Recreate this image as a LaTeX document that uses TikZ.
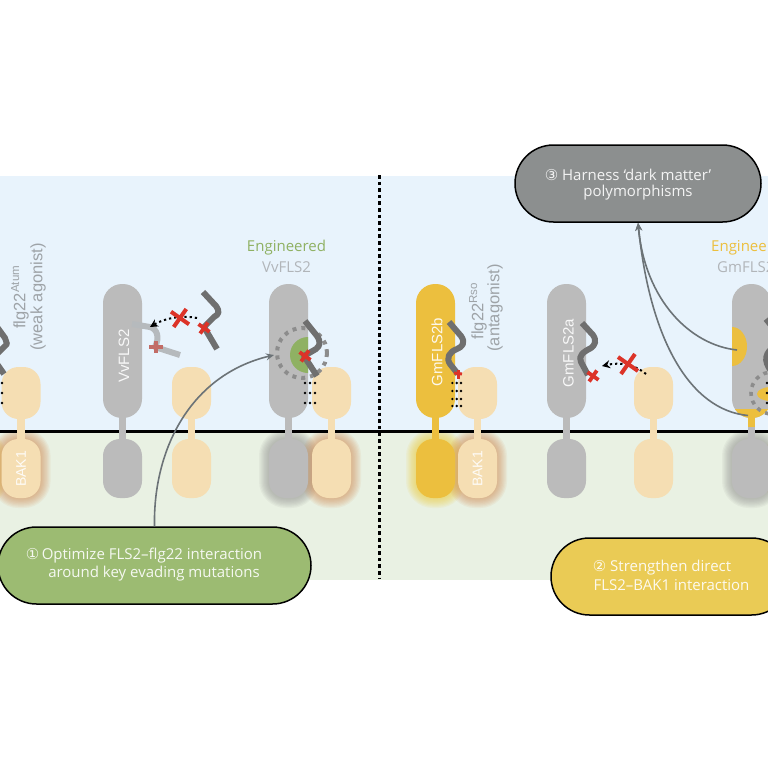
\documentclass[tikz,border=0pt]{standalone}
\usepackage{fontspec}
\setmainfont{Open Sans}
\newfontfamily\armfont{Liberation Sans}
\newfontfamily\numfont{DejaVu Sans}
\usetikzlibrary{arrows.meta,calc}
\definecolor{skyzone}{HTML}{E8F3FC}
\definecolor{soilzone}{HTML}{E9F1E3}
\definecolor{fls}{HTML}{BBBBBB}
\definecolor{bak}{HTML}{F5DEB3}
\definecolor{gold}{HTML}{ECBF3E}
\definecolor{leaf}{HTML}{8FB163}
\definecolor{pep}{HTML}{6F6F6F}
\definecolor{mut}{HTML}{DC3328}
\definecolor{wire}{HTML}{6C7377}
\definecolor{caption}{HTML}{9EA3A7}
\definecolor{actgreen}{HTML}{9CBB72}
\definecolor{actyellow}{HTML}{EACB55}
\definecolor{actgrey}{HTML}{8C8F8F}
\definecolor{glowbak}{HTML}{D28A4E}
\definecolor{glowfls}{HTML}{8E8E8E}
\definecolor{glowgold}{HTML}{F0CC30}
\tikzset{
  x=1pt,y=-1pt,
  upper/.style={draw=none,rounded corners=19pt,minimum width=39pt,inner sep=0pt,outer sep=0pt},
  lobe/.style={draw=none,rounded corners=17pt,minimum width=39pt,inner sep=0pt,outer sep=0pt},
  flsbody/.style={upper,fill=fls,minimum height=134pt},
  flsfoot/.style={lobe,fill=fls,minimum height=59pt},
  bakbody/.style={lobe,fill=bak,minimum height=52pt},
  bakfoot/.style={lobe,fill=bak,minimum height=59pt},
  goldbody/.style={upper,fill=gold,minimum height=134pt},
  goldfoot/.style={lobe,fill=gold,minimum height=59pt},
  stem/.style={line width=7.5pt},
  peptide/.style={line width=6pt,draw=pep,line join=round},
  pill/.style={draw=black,line width=1.5pt,rounded corners=38.5pt,minimum height=77pt,inner sep=0pt},
  pilltext/.style={text=white,font=\fontsize{15}{17}\selectfont,inner sep=0pt,opacity=.9},
  armtext/.style={text=white,font=\armfont\fontsize{15}{17}\selectfont,rotate=90,inner sep=0pt,opacity=.9},
  baktext/.style={armtext,font=\armfont\fontsize{14}{16}\selectfont},
  captext/.style={text=caption,font=\armfont\fontsize{16.5}{18}\selectfont,rotate=90,inner sep=0pt},
  headtext/.style={font=\fontsize{15}{17}\selectfont,inner sep=0pt},
  crossmark/.style={draw=mut,line width=3.8pt},
  contact/.style={fill=black,draw=none},
  ring/.style={draw=gray!90,line width=4pt,dash pattern=on 4pt off 5pt},
  leader/.style={draw=wire,line width=1.6pt},
  tip/.style={-{Stealth[length=8pt,width=7pt]}},
  dotarrow/.style={draw=black,line width=2pt,dash pattern=on 2.2pt off 3pt,-{Stealth[length=8pt,width=8pt]}},
}
% soft glow round a cytoplasmic lobe
\newcommand{\glowlobe}[5]{%
  \foreach \w in {20,17.5,15,12.5,10,7.5,5,2.5}{%
    \draw[draw=#5,opacity=.085,line width=\w pt,rounded corners=17pt] (#1,#2) rectangle (#3,#4);}%
}
% red mutation cross with half-arm d
\newcommand{\crossat}[4][crossmark]{%
  \draw[#1] ($(#2,#3)+(-#4,-#4*.7)$) -- ($(#2,#3)+(#4,#4*.7)$);
  \draw[#1] ($(#2,#3)+(-#4*.7,#4)$) -- ($(#2,#3)+(#4*.7,-#4)$);
}
% rows of contact points between receptor and co-receptor
\newcommand{\contacts}[2]{%
  \foreach \cy in {#2}{\foreach \cx in {#1}{\fill[contact] (\cx,\cy) circle (1.3pt);}}%
}
\begin{document}
\begin{tikzpicture}
\useasboundingbox (0,0) rectangle (768,768);
\clip (0,0) rectangle (768,768);

% compartments
\fill[skyzone] (0,176) rectangle (768,432);
\fill[soilzone] (0,432) rectangle (768,579.5);

% glow below the membrane
\begin{scope}
\clip (0,433) rectangle (768,540);
\glowlobe{-45}{439}{-4}{498}{glowgold}
\glowlobe{1.5}{439}{40.5}{498}{glowbak}
\glowlobe{269}{439}{308}{498}{glowfls}
\glowlobe{312}{439}{351}{498}{glowbak}
\glowlobe{416}{439}{455}{498}{glowgold}
\glowlobe{458}{439}{497}{498}{glowbak}
\glowlobe{732}{439}{771}{498}{glowfls}
\glowlobe{775}{439}{814}{498}{glowbak}
\end{scope}

% membrane and panel divider
\draw[line width=3pt,black] (0,431.5) -- (768,431.5);
\draw[line width=3pt,black,dash pattern=on 3.6pt off 3pt] (379,175) -- (379,578);

% stems crossing the membrane
\draw[stem,draw=bak] (21,415) -- (21,442);
\draw[stem,draw=fls] (122.5,415) -- (122.5,442);
\draw[stem,draw=bak] (191.5,415) -- (191.5,442);
\draw[stem,draw=fls] (288.5,415) -- (288.5,442);
\draw[stem,draw=bak] (331.5,415) -- (331.5,442);
\draw[stem,draw=gold] (435.5,415) -- (435.5,442);
\draw[stem,draw=bak] (477.5,415) -- (477.5,442);
\draw[stem,draw=fls] (566.5,415) -- (566.5,442);
\draw[stem,draw=bak] (653.5,415) -- (653.5,442);
\draw[stem,draw=fls] (751.5,415) -- (751.5,442);

% receptors
\node[bakbody] (bakA) at (21,393) {};
\node[bakfoot] (bakAf) at (21,468.5) {};
\node[flsbody] (vvA) at (122.5,351) {};
\node[flsfoot] (vvAf) at (122.5,468.5) {};
\node[bakbody] (bakB) at (191.5,393) {};
\node[bakfoot] (bakBf) at (191.5,468.5) {};
\node[flsbody] (vvB) at (288.5,351) {};
\node[flsfoot] (vvBf) at (288.5,468.5) {};
\node[bakbody] (bakC) at (331.5,393) {};
\node[bakfoot] (bakCf) at (331.5,468.5) {};
\node[goldbody] (gmB) at (435.5,351) {};
\node[goldfoot] (gmBf) at (435.5,468.5) {};
\node[bakbody] (bakD) at (477.5,393) {};
\node[bakfoot] (bakDf) at (477.5,468.5) {};
\node[flsbody] (gmA) at (566.5,351) {};
\node[flsfoot] (gmAf) at (566.5,468.5) {};
\node[bakbody] (bakE) at (653.5,393) {};
\node[bakfoot] (bakEf) at (653.5,468.5) {};
\node[flsbody] (gmC) at (751.5,351) {};
\node[flsfoot] (gmCf) at (751.5,468.5) {};

% receptor labels
\node[armtext] (lblVvA) at (124,356) {VvFLS2};
\node[armtext] (lblGmB) at (437,352) {GmFLS2b};
\node[armtext] (lblGmA) at (568.5,353) {GmFLS2a};
\node[baktext] (lblBakA) at (21,469) {BAK1};
\node[baktext] (lblBakD) at (477.5,469) {BAK1};

% ligand captions
\node[captext] (capA) at (20,297) {flg22\textsuperscript{Atum}};
\node[captext] (capAb) at (38,297) {(weak agonist)};
\node[captext] (capB) at (478,311) {flg22\textsuperscript{Rso}};
\node[captext] (capBb) at (495,308) {(antagonist)};
\node[headtext,text=leaf] (engA) at (286.5,248) {Engineered};
\node[headtext,text=caption!80] (engAb) at (286.5,267) {VvFLS2};
\node[headtext,text=gold,anchor=west] (engB) at (711,248) {Engineered};
\node[headtext,text=caption!80,anchor=west] (engBb) at (717,267) {GmFLS2};

% first panel, far left ligand
\draw[peptide] (-3,327) -- (5,338) -- (7,344) -- (-3,354);
\draw[peptide] (-3,364) -- (4,374);
\contacts{2}{383,393,403}

% wild-type VvFLS2: ligand leaving the pocket
\draw[peptide,draw=caption!75] (132,324) -- (150,327) .. controls (157,329) and (160,337) .. (155,347) -- (180,355);
\draw[line width=3.6pt,draw=mut!60!gray!85] (149,347) -- (163,347);
\draw[line width=3.6pt,draw=mut!60!gray!85] (156,341) -- (156,353);
\draw[peptide] (203,292) -- (216,306) .. controls (220,312) and (219,314) .. (214,317) -- (204,327) -- (217,349);
\crossat{204}{328}{5.5}
\coordinate (leaveA) at (197,318);
\coordinate (pocketA) at (150,327);
\draw[dotarrow] (leaveA) .. controls (182,315) and (165,318) .. (pocketA);
\crossat[crossmark,line width=4pt]{180}{318}{9}

% engineered VvFLS2: optimised pocket
\begin{scope}
\clip (269,284) rectangle (308,418);
\fill[leaf] (308,355) circle (18);
\end{scope}
\draw[ring] (302,353) circle (25);
\draw[peptide] (305,321) -- (317,336) .. controls (321,342) and (320,346) .. (316,349) -- (304,356) -- (317,376);
\crossat{305}{356}{5.5}
\contacts{305,310,315}{383,393,403}

% GmFLS2b with antagonist
\draw[peptide] (449,322) -- (461,336) .. controls (466,343) and (462,347) .. (457,349) .. controls (449,352) and (446,358) .. (450,364) -- (458,374);
\draw[mut,line width=3pt] (458,370) -- (458,379);
\draw[mut,line width=3pt] (454,373) -- (462,374);
\contacts{452.3,456.7,461}{383,391,399,406}

% GmFLS2a: ligand leaving the pocket
\draw[peptide] (582,323) -- (593,335) .. controls (597,341) and (595,345) .. (591,348) .. controls (583,352) and (578,356) .. (581,362) -- (588,375);
\crossat{593}{376}{5.5}
\coordinate (leaveB) at (646,374);
\coordinate (pocketB) at (602,366);
\draw[dotarrow] (leaveB) .. controls (634,364) and (620,362) .. (pocketB);
\crossat[crossmark,line width=4pt]{628}{364}{10}

% engineered GmFLS2: modified regions
\begin{scope}
\clip[rounded corners=19pt] (732,284) rectangle (771,418);
\fill[gold] (732,346.5) ellipse (15 and 19.5);
\fill[gold] (732,409) rectangle (771,418);
\end{scope}
\draw[stem,draw=gold] (751.5,417) -- (751.5,427);
\begin{scope}
\clip (732,284) rectangle (768,440);
\fill[gold] (771,394) ellipse (14 and 7);
\end{scope}
\draw[ring,line width=3.6pt] (772,393) circle (21);
\draw[peptide] (766,319) -- (775,330);
\draw[peptide,line width=6pt] (775,346) .. controls (766,352) and (762,360) .. (772,372);
\contacts{767}{383,393,403}

% action boxes
\node[pill,fill=actgreen,minimum width=313pt] (actA) at (154.5,565.5) {};
\node[pill,fill=actyellow,minimum width=239pt] (actB) at (670.5,576.5) {};
\node[pill,fill=actgrey,minimum width=246pt] (actC) at (638,183.5) {};

\node[pilltext] (actAa) at (144,556) {{\numfont ①}\,Optimize FLS2–flg22 interaction};
\node[pilltext] (actAb) at (154,573.5) {around key evading mutations};
\node[pilltext] (actBa) at (662,567.5) {{\numfont ②} Strengthen direct};
\node[pilltext] (actBb) at (671.5,585) {FLS2–BAK1 interaction};
\node[pilltext] (actCa) at (628,174.5) {{\numfont ③} Harness ‘dark matter’};
\node[pilltext] (actCb) at (638,192.5) {polymorphisms};

% leaders from the action boxes to their targets
\coordinate (siteA) at (274,355);
\coordinate (siteB) at (737,350);
\coordinate (siteC) at (748,415.5);
\draw[leader,tip] (actA.north) .. controls (153,450) and (190,375) .. (siteA);
\draw[leader,tip] (siteB) .. controls (690,345) and (645,300) .. (actC.south);
\draw[leader,tip] (siteC) .. controls (690,410) and (650,340) .. (actC.south);
\end{tikzpicture}
\end{document}
